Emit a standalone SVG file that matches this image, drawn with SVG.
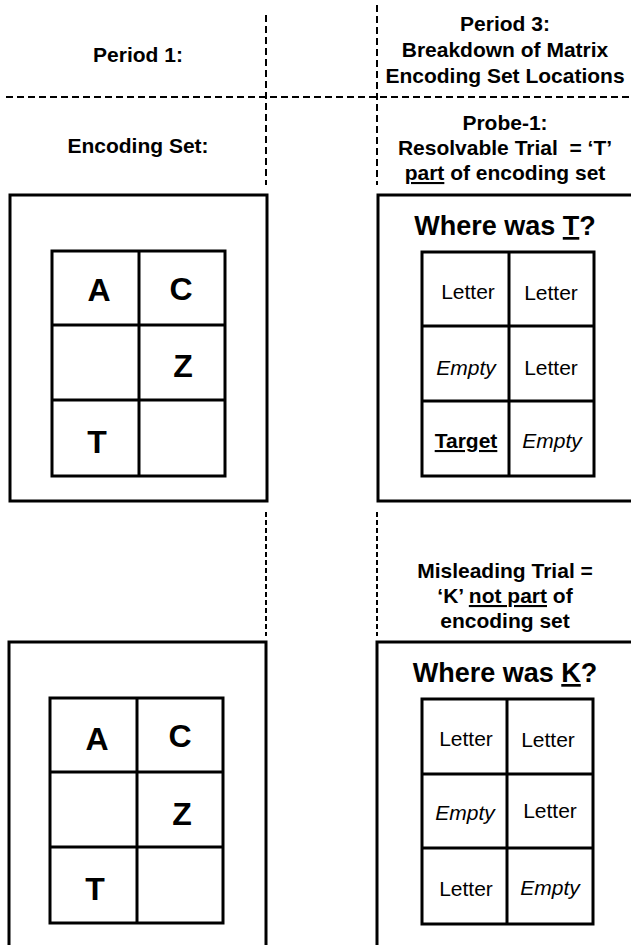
<svg xmlns="http://www.w3.org/2000/svg" width="631" height="945" viewBox="0 0 631 945">
<style>
text{font-family:"Liberation Sans",Arial,Helvetica,sans-serif;fill:#000;text-anchor:middle}
.h{font-weight:bold;font-size:21px}
.q{font-weight:bold;font-size:27px}
.big{font-weight:bold;font-size:32px}
.cell{font-size:21px}
.em{font-style:italic}
.b{font-weight:bold}
.u{text-decoration:underline}
.box{fill:none;stroke:#000;stroke-width:3}
.grid{fill:none;stroke:#000;stroke-width:3}
.dash{fill:none;stroke:#000;stroke-width:2;stroke-dasharray:7 4}
.dash2{fill:none;stroke:#000;stroke-width:2;stroke-dasharray:5 3}
</style>
<rect width="631" height="945" fill="#fff"/>

<g id="dividers">
<line class="dash" x1="6" y1="97" x2="631" y2="97"/>
<line class="dash" x1="266" y1="15" x2="266" y2="185"/>
<line class="dash" x1="377" y1="5" x2="377" y2="185"/>
<line class="dash2" x1="266" y1="512" x2="266" y2="636"/>
<line class="dash2" x1="377" y1="512" x2="377" y2="636"/>
</g>

<g id="header-period1">
<text class="h" x="138" y="62">Period 1:</text>
</g>
<g id="header-period3">
<text class="h" x="505" y="31">Period 3:</text>
<text class="h" x="505" y="57">Breakdown of Matrix</text>
<text class="h" x="505" y="83">Encoding Set Locations</text>
</g>
<g id="label-encoding">
<text class="h" x="138" y="153">Encoding Set:</text>
</g>
<g id="label-probe">
<text class="h" x="505" y="130">Probe-1:</text>
<text class="h" x="505" y="155" xml:space="preserve">Resolvable Trial  = ‘T’</text>
<text class="h" x="505" y="180"><tspan class="u">part</tspan> of encoding set</text>
</g>
<g id="label-misleading">
<text class="h" x="505" y="578">Misleading Trial =</text>
<text class="h" x="505" y="603">‘K’ <tspan class="u">not part</tspan> of</text>
<text class="h" x="505" y="628">encoding set</text>
</g>

<g id="encoding-set-1">
<rect class="box" x="10" y="195" width="257" height="306"/>
<rect class="grid" x="52" y="251" width="173" height="225"/>
<line class="grid" x1="139" y1="251" x2="139" y2="476"/>
<line class="grid" x1="52" y1="325" x2="225" y2="325"/>
<line class="grid" x1="52" y1="400" x2="225" y2="400"/>
<text class="big" x="99" y="301">A</text>
<text class="big" x="181" y="300">C</text>
<text class="big" x="183" y="377">Z</text>
<text class="big" x="97" y="453">T</text>
</g>

<g id="probe-resolvable">
<rect class="box" x="378" y="195" width="262" height="306"/>
<text class="q" x="505" y="235">Where was <tspan class="u">T</tspan>?</text>
<rect class="grid" x="422" y="252" width="172" height="224"/>
<line class="grid" x1="509" y1="252" x2="509" y2="476"/>
<line class="grid" x1="422" y1="326" x2="594" y2="326"/>
<line class="grid" x1="422" y1="401" x2="594" y2="401"/>
<text class="cell" x="468" y="299">Letter</text>
<text class="cell" x="551" y="300">Letter</text>
<text class="cell em" x="466" y="375">Empty</text>
<text class="cell" x="551" y="375">Letter</text>
<text class="cell b u" x="466" y="448">Target</text>
<text class="cell em" x="552" y="448">Empty</text>
</g>

<g id="encoding-set-2">
<rect class="box" x="9" y="642" width="257" height="306"/>
<rect class="grid" x="50" y="698" width="173" height="225"/>
<line class="grid" x1="137" y1="698" x2="137" y2="923"/>
<line class="grid" x1="50" y1="772" x2="223" y2="772"/>
<line class="grid" x1="50" y1="847" x2="223" y2="847"/>
<text class="big" x="97" y="750">A</text>
<text class="big" x="180" y="747">C</text>
<text class="big" x="182" y="825">Z</text>
<text class="big" x="95" y="900">T</text>
</g>

<g id="probe-misleading">
<rect class="box" x="377" y="642" width="262" height="306"/>
<text class="q" x="505" y="682">Where was <tspan class="u">K</tspan>?</text>
<rect class="grid" x="422" y="699" width="171" height="225"/>
<line class="grid" x1="507" y1="699" x2="507" y2="924"/>
<line class="grid" x1="422" y1="774" x2="593" y2="774"/>
<line class="grid" x1="422" y1="848" x2="593" y2="848"/>
<text class="cell" x="466" y="746">Letter</text>
<text class="cell" x="548" y="747">Letter</text>
<text class="cell em" x="465" y="820">Empty</text>
<text class="cell" x="550" y="818">Letter</text>
<text class="cell" x="466" y="896">Letter</text>
<text class="cell em" x="550" y="895">Empty</text>
</g>
</svg>
